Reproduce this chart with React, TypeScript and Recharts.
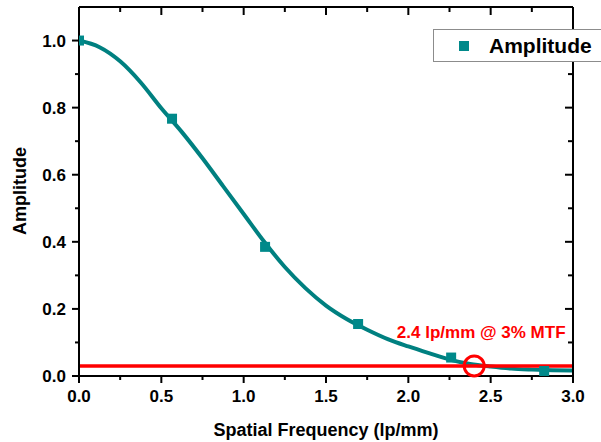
import React from "react"
import {
  ComposedChart,
  Line,
  Scatter,
  XAxis,
  YAxis,
  ReferenceLine,
  ReferenceDot,
  Legend,
} from "recharts"

// fitted curve
const fitX = [0, 0.125, 0.25, 0.375, 0.5, 0.625, 0.75, 0.875, 1.0, 1.125, 1.25, 1.375, 1.5,
  1.625, 1.75, 1.875, 2.0, 2.125, 2.25, 2.375, 2.5, 2.625, 2.75, 2.875, 3.0]
const fitY = [1.0, 0.98, 0.938, 0.875, 0.798, 0.727, 0.649, 0.566, 0.483, 0.4, 0.325, 0.262, 0.21,
  0.17, 0.138, 0.11, 0.088, 0.068, 0.049, 0.036, 0.028, 0.022, 0.019, 0.017, 0.016]

// measured points
const measX = [0.0, 0.565, 1.13, 1.695, 2.26, 2.825]
const measY = [1.0, 0.767, 0.385, 0.155, 0.055, 0.015]

const xMajor = [0, 0.5, 1.0, 1.5, 2.0, 2.5, 3.0]
const xMinor = [0.25, 0.75, 1.25, 1.75, 2.25, 2.75]
const yMajor = [0, 0.2, 0.4, 0.6, 0.8, 1.0]
const yMinor = [0.1, 0.3, 0.5, 0.7, 0.9]

const mtfLevel = 0.03
const mtfFreq = 2.4

const FONT = "'Liberation Sans', Arial, sans-serif"
const TEAL = "#008080"
const MARK = "#00898a"

const fitData = fitX.map((x, i) => ({ x, y: fitY[i] }))
const measData = measX.map((x, i) => ({ x, y: measY[i] }))
const xTicks = [...xMajor, ...xMinor].sort((a, b) => a - b)
const yTicks = [...yMajor, ...yMinor].sort((a, b) => a - b)

const isMajor = (list: number[], v: number) => list.some((m) => Math.abs(m - v) < 1e-9)

const labelText = {
  fontFamily: FONT,
  fontSize: 17,
  fontWeight: "bold" as const,
  fill: "#000",
}

// tick renderers: the axis passes the axis-line position (tickSize 0, margin 0)
const BottomTick = (p: any) => {
  const major = isMajor(xMajor, p.payload.value)
  return (
    <g>
      <line x1={p.x} x2={p.x} y1={p.y} y2={p.y + (major ? 7 : 4)} stroke="#000" strokeWidth={2} />
      {major && (
        <text x={p.x} y={p.y + 26} textAnchor="middle" {...labelText}>
          {p.payload.value.toFixed(1)}
        </text>
      )}
    </g>
  )
}

const LeftTick = (p: any) => {
  const major = isMajor(yMajor, p.payload.value)
  return (
    <g>
      <line x1={p.x} x2={p.x - (major ? 7 : 4)} y1={p.y} y2={p.y} stroke="#000" strokeWidth={2} />
      {major && (
        <text x={p.x - 13} y={p.y + 6} textAnchor="end" {...labelText}>
          {p.payload.value.toFixed(1)}
        </text>
      )}
    </g>
  )
}

const TopTick = (p: any) => {
  const major = isMajor(xMajor, p.payload.value)
  return <line x1={p.x} x2={p.x} y1={p.y} y2={p.y + (major ? 8 : 5)} stroke="#000" strokeWidth={2} />
}

const RightTick = (p: any) => {
  const major = isMajor(yMajor, p.payload.value)
  return <line x1={p.x} x2={p.x - (major ? 8 : 5)} y1={p.y} y2={p.y} stroke="#000" strokeWidth={2} />
}

const SquareDot = (props: any) => {
  const { cx, cy } = props
  return <rect x={cx - 5} y={cy - 5} width={10} height={10} fill={MARK} />
}

const LegendBox = () => (
  <div
    style={{
      border: "1px solid #8c8c8c",
      background: "#fff",
      height: 31,
      display: "flex",
      alignItems: "center",
      fontFamily: FONT,
      fontWeight: "bold",
      fontSize: 21,
      color: "#000",
    }}
  >
    <span style={{ width: 10, height: 10, background: MARK, marginLeft: 25, marginRight: 20 }} />
    <span>Amplitude</span>
  </div>
)

export default function App() {
  return (
    <div style={{ position: "absolute", left: 0, top: 0, width: 601, height: 442, background: "#fff" }}>
      <ComposedChart width={601} height={442} margin={{ top: 7, right: 28, bottom: 36, left: 19 }}>
        <XAxis xAxisId="x" type="number" dataKey="x" domain={[0, 3]} allowDataOverflow ticks={xTicks}
          interval={0} height={30} tickSize={0} tickMargin={0} tickLine={false}
          stroke="#000" strokeWidth={2} tick={BottomTick} />
        <XAxis xAxisId="xt" orientation="top" mirror type="number" dataKey="x" domain={[0, 3]} allowDataOverflow
          ticks={xTicks} interval={0} height={1} tickSize={0} tickMargin={0} tickLine={false}
          stroke="#000" strokeWidth={2} tick={TopTick} />
        <YAxis yAxisId="y" type="number" domain={[0, 1.1]} allowDataOverflow ticks={yTicks}
          interval={0} width={60} tickSize={0} tickMargin={0} tickLine={false}
          stroke="#000" strokeWidth={2} tick={LeftTick} />
        <YAxis yAxisId="yr" orientation="right" mirror type="number" domain={[0, 1.1]} allowDataOverflow
          ticks={yTicks} interval={0} width={1} tickSize={0} tickMargin={0} tickLine={false}
          stroke="#000" strokeWidth={2} tick={RightTick} />

        <Line xAxisId="x" yAxisId="y" data={fitData} dataKey="y" type="monotone" stroke={TEAL}
          strokeWidth={4} dot={false} legendType="none" isAnimationActive={false} />
        <Scatter xAxisId="x" yAxisId="y" data={measData} dataKey="y" name="Amplitude" fill={MARK}
          shape={SquareDot} legendType="square" isAnimationActive={false} />

        <ReferenceLine xAxisId="x" yAxisId="y" y={mtfLevel} stroke="#ff0000" strokeWidth={3.5} />
        <ReferenceDot xAxisId="x" yAxisId="y" x={mtfFreq} y={mtfLevel} r={10} fill="none"
          stroke="#ff0000" strokeWidth={3}
          label={{
            value: "2.4 lp/mm @ 3% MTF",
            position: "top",
            offset: 18,
            dx: 7,
            fill: "#ff0000",
            fontFamily: FONT,
            fontSize: 17,
            fontWeight: "bold",
          }} />

        <Legend layout="horizontal" align="center" verticalAlign="middle" content={LegendBox}
          wrapperStyle={{ left: 433, top: 29, width: 180 }} />
      </ComposedChart>

      <div style={{ position: "absolute", left: 0, width: 652, top: 420, textAlign: "center",
        fontFamily: FONT, fontWeight: "bold", fontSize: 18, color: "#000" }}>
        Spatial Frequency (lp/mm)
      </div>
      <div style={{ position: "absolute", left: 20, top: 191, width: 0, height: 0 }}>
        <div style={{ position: "absolute", transform: "translate(-50%, -50%) rotate(-90deg)", whiteSpace: "nowrap",
          fontFamily: FONT, fontWeight: "bold", fontSize: 18, color: "#000" }}>
          Amplitude
        </div>
      </div>
    </div>
  )
}
